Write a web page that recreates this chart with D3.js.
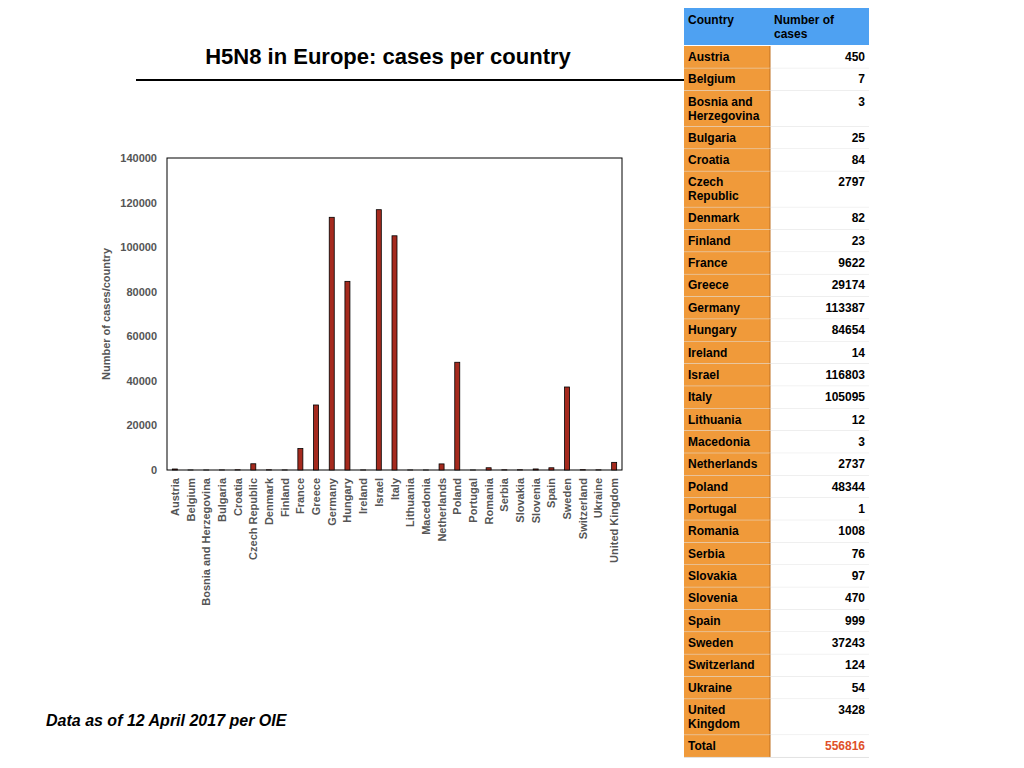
<!DOCTYPE html>
<html lang="en">
<head>
<meta charset="UTF-8">
<title>H5N8 in Europe</title>
<script src="https://d3js.org/d3.v7.min.js"></script>
<style>
  body { margin: 0; background: #fff; font-family: "Liberation Sans", Arial, sans-serif; }
</style>
</head>
<body>
<svg width="1024" height="768"></svg>
<script>
const countries = ["Austria","Belgium","Bosnia and Herzegovina","Bulgaria","Croatia","Czech Republic","Denmark","Finland","France","Greece","Germany","Hungary","Ireland","Israel","Italy","Lithuania","Macedonia","Netherlands","Poland","Portugal","Romania","Serbia","Slovakia","Slovenia","Spain","Sweden","Switzerland","Ukraine","United Kingdom"];
const cases = [450,7,3,25,84,2797,82,23,9622,29174,113387,84654,14,116803,105095,12,3,2737,48344,1,1008,76,97,470,999,37243,124,54,3428];
const tableNames = ["Austria","Belgium","Bosnia and|Herzegovina","Bulgaria","Croatia","Czech|Republic","Denmark","Finland","France","Greece","Germany","Hungary","Ireland","Israel","Italy","Lithuania","Macedonia","Netherlands","Poland","Portugal","Romania","Serbia","Slovakia","Slovenia","Spain","Sweden","Switzerland","Ukraine","United|Kingdom"];
const total = 556816;
const yTicks = [0,20000,40000,60000,80000,100000,120000,140000];

const svg = d3.select("svg");

// title + rule
svg.append("text").attr("x", 388).attr("y", 64).attr("text-anchor", "middle")
  .attr("font-size", 22).attr("font-weight", "bold").text("H5N8 in Europe: cases per country");
svg.append("line").attr("x1", 136).attr("x2", 700).attr("y1", 80).attr("y2", 80)
  .attr("stroke", "#000").attr("stroke-width", 2);

// chart
const x = d3.scaleBand().domain(countries).range([167, 622]);
const y = d3.scaleLinear().domain([0, 140000]).range([470, 158]);

svg.append("rect").attr("x", 167).attr("y", 158).attr("width", 455).attr("height", 312)
  .attr("fill", "none").attr("stroke", "#000").attr("stroke-width", 1);

const yAxis = svg.append("g").attr("transform", "translate(160,0)")
  .call(d3.axisLeft(y).tickValues(yTicks).tickSize(0).tickFormat(d3.format("d")));
yAxis.select(".domain").remove();
yAxis.selectAll("text").attr("font-size", 11).attr("font-weight", "bold").attr("fill", "#555")
  .attr("font-family", "Liberation Sans, Arial");

svg.append("text").attr("transform", "translate(110,314) rotate(-90)").attr("text-anchor", "middle")
  .attr("font-size", 11).attr("font-weight", "bold").attr("fill", "#555").text("Number of cases/country");

svg.selectAll("rect.bar").data(countries).join("rect").attr("class", "bar")
  .attr("x", d => x(d) + x.bandwidth() / 2 - 2.5)
  .attr("width", 5)
  .attr("y", (d, i) => y(cases[i]))
  .attr("height", (d, i) => 470 - y(cases[i]))
  .attr("fill", "#a52a1e").attr("stroke", "#000").attr("stroke-width", 0.8);

svg.selectAll("text.xl").data(countries).join("text").attr("class", "xl")
  .attr("transform", d => `translate(${x(d) + x.bandwidth() / 2 + 4},478) rotate(-90)`)
  .attr("text-anchor", "end").attr("font-size", 11).attr("font-weight", "bold").attr("fill", "#555")
  .text(d => d);

svg.append("text").attr("x", 46).attr("y", 726).attr("font-size", 16).attr("font-weight", "bold")
  .attr("font-style", "italic").text("Data as of 12 April 2017 per OIE");

// table
const tx0 = 684, tx1 = 770, tx2 = 869;
const g = svg.append("g").attr("font-size", 12).attr("font-weight", "bold");
g.append("rect").attr("x", tx0).attr("y", 8).attr("width", tx2 - tx0).attr("height", 37).attr("fill", "#4ea1f2");
g.append("text").attr("x", 688).attr("y", 24).text("Country");
g.append("text").attr("x", 774).attr("y", 24).text("Number of");
g.append("text").attr("x", 774).attr("y", 38).text("cases");

const rows = tableNames.map((n, i) => ({ name: n, val: cases[i] }));
rows.push({ name: "Total", val: total, total: true });
let ty = 46;
rows.forEach(r => {
  const lines = r.name.split("|");
  const h = lines.length > 1 ? 36 : 22.35;
  g.append("rect").attr("x", tx0).attr("y", ty).attr("width", tx1 - tx0).attr("height", h).attr("fill", "#f09a3a");
  g.append("line").attr("x1", tx1).attr("x2", tx1).attr("y1", ty).attr("y2", ty + h).attr("stroke", "#c07020");
  g.append("rect").attr("x", tx1 + 1).attr("y", ty).attr("width", tx2 - tx1 - 1).attr("height", h).attr("fill", "#fff");
  g.append("line").attr("x1", tx0).attr("x2", tx2).attr("y1", ty + h).attr("y2", ty + h).attr("stroke", "#e2e2e2");
  lines.forEach((l, k) => g.append("text").attr("x", 688).attr("y", ty + 15 + k * 14).text(l));
  g.append("text").attr("x", 865).attr("y", ty + 15).attr("text-anchor", "end")
    .attr("fill", r.total ? "#e0502a" : "#000").text(r.val);
  ty += h;
});
</script>
</body>
</html>
